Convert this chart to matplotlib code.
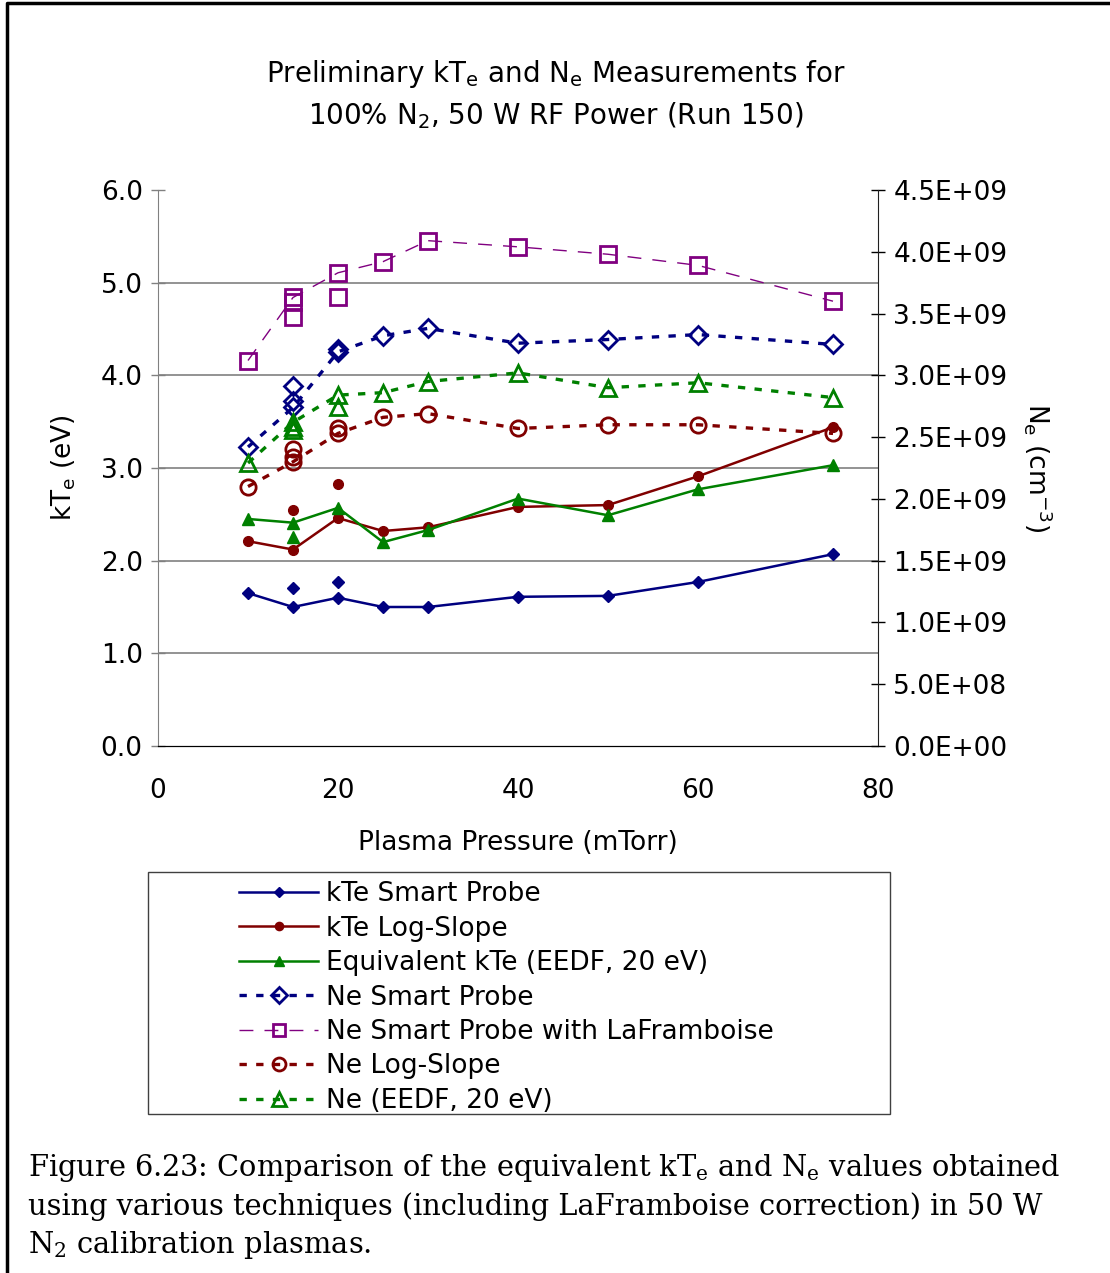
import matplotlib
matplotlib.use("Agg")
from matplotlib import pyplot as plt
from matplotlib.lines import Line2D
from matplotlib.patches import Rectangle
from matplotlib.ticker import FormatStrFormatter

plt.rcParams['font.family'] = ['DejaVu Sans']
plt.rcParams['mathtext.default'] = 'regular'

# pressure in mTorr
pressure = [10, 15, 20, 25, 30, 40, 50, 60, 75]

# kTe in eV
kte_smart = [1.65, 1.50, 1.60, 1.50, 1.50, 1.61, 1.62, 1.77, 2.07]
kte_log = [2.21, 2.12, 2.46, 2.32, 2.36, 2.58, 2.60, 2.91, 3.44]
kte_eedf = [2.45, 2.41, 2.57, 2.20, 2.33, 2.67, 2.49, 2.77, 3.03]

# repeat shots that are not on the connected line
kte_smart_rep_p = [15, 20]
kte_smart_rep = [1.70, 1.77]
kte_log_rep_p = [15, 20]
kte_log_rep = [2.55, 2.83]
kte_eedf_rep_p = [15]
kte_eedf_rep = [2.26]

# Ne in 1e9 cm^-3
ne_smart = [2.42, 2.74, 3.19, 3.32, 3.38, 3.26, 3.29, 3.33, 3.25]
ne_laf = [3.12, 3.63, 3.83, 3.92, 4.09, 4.04, 3.98, 3.89, 3.60]
ne_log = [2.10, 2.30, 2.53, 2.66, 2.69, 2.57, 2.60, 2.60, 2.53]
ne_eedf = [2.29, 2.62, 2.84, 2.86, 2.95, 3.02, 2.90, 2.94, 2.82]

ne_smart_rep_p = [15, 15, 20]
ne_smart_rep = [2.91, 2.79, 3.21]
ne_laf_rep_p = [15, 15, 20]
ne_laf_rep = [3.59, 3.47, 3.63]
ne_log_rep_p = [15, 15, 20]
ne_log_rep = [2.40, 2.34, 2.57]
ne_eedf_rep_p = [15, 15, 20]
ne_eedf_rep = [2.58, 2.56, 2.74]

navy = '#000080'
red = '#800000'
green = '#008000'
purple = '#800080'

fig = plt.figure(figsize=(11.1, 12.73), dpi=100)
ax = fig.add_axes([158/1110, 1-746/1273, 720/1110, 556/1273])
ax2 = ax.twinx()

handles = []
solid = [(kte_smart, kte_smart_rep_p, kte_smart_rep, navy, 'D', 6, 'kTe Smart Probe'),
         (kte_log, kte_log_rep_p, kte_log_rep, red, 'o', 7, 'kTe Log-Slope'),
         (kte_eedf, kte_eedf_rep_p, kte_eedf_rep, green, '^', 8, 'Equivalent kTe (EEDF, 20 eV)')]
for vals, rp, rv, c, m, ms, lab in solid:
    h, = ax.plot(pressure, vals, color=c, lw=1.8, marker=m, ms=ms, label=lab)
    ax.plot(rp, rv, ls='none', color=c, marker=m, ms=ms)
    handles.append(h)

dotted = [(ne_smart, ne_smart_rep_p, ne_smart_rep, navy, 'D', 9, (0, (2.2, 2.8)), 2.4, 'Ne Smart Probe'),
          (ne_laf, ne_laf_rep_p, ne_laf_rep, purple, 's', 11, (0, (10, 8)), 1.0, 'Ne Smart Probe with LaFramboise'),
          (ne_log, ne_log_rep_p, ne_log_rep, red, 'o', 11, (0, (2.2, 2.8)), 2.4, 'Ne Log-Slope'),
          (ne_eedf, ne_eedf_rep_p, ne_eedf_rep, green, '^', 12, (0, (2.2, 2.8)), 2.4, 'Ne (EEDF, 20 eV)')]
for vals, rp, rv, c, m, ms, ls, lw, lab in dotted:
    h, = ax2.plot(pressure, [v*1e9 for v in vals], color=c, lw=lw, ls=ls, marker=m, ms=ms,
                  mfc='none', mec=c, mew=2, label=lab)
    ax2.plot(rp, [v*1e9 for v in rv], ls='none', marker=m, ms=ms, mfc='none', mec=c, mew=2)
    handles.append(h)

ax.set_xlim(0, 80)
ax.set_ylim(0, 6)
ax2.set_ylim(0, 4.5e9)
ax.set_xticks([0, 20, 40, 60, 80])
ax.set_yticks([0, 1, 2, 3, 4, 5, 6])
ax2.set_yticks([i*0.5e9 for i in range(10)])
ax.yaxis.set_major_formatter(FormatStrFormatter('%.1f'))
ax2.yaxis.set_major_formatter(FormatStrFormatter('%.1E'))

for y in [1, 2, 3, 4, 5]:
    ax.axhline(y, color='#808080', lw=1.2, zorder=0)

for a in (ax, ax2):
    a.spines['top'].set_visible(False)
    a.tick_params(labelsize=19, direction='inout', length=10, width=1, pad=6)
ax.spines['left'].set_color('#808080')
ax2.spines['left'].set_visible(False)
ax.spines['right'].set_visible(False)
ax2.spines['right'].set_color('#202020')
ax.spines['bottom'].set_color('black')
ax.tick_params(axis='x', length=0, pad=23)
ax.tick_params(axis='y', colors='#808080', labelcolor='black')

ax.set_xlabel('Plasma Pressure (mTorr)', fontsize=19, labelpad=19)
ax.set_ylabel('kT$_{e}$ (eV)', fontsize=19, labelpad=16)
ax2.set_ylabel('N$_{e}$ (cm$^{-3}$)', fontsize=19, rotation=270, labelpad=34)

fig.text(556/1110, 1-74/1273, 'Preliminary kT$_{e}$ and N$_{e}$ Measurements for',
         fontsize=20, ha='center', va='center')
fig.text(556/1110, 1-116/1273, '100% N$_{2}$, 50 W RF Power (Run 150)',
         fontsize=20, ha='center', va='center')

# legend box drawn separately so the entries sit in its middle
fig.patches.append(Rectangle((148/1110, 1-1114/1273), 742/1110, 242/1273,
                             transform=fig.transFigure, fill=False, ec='#404040', lw=1))
fig.legend(handles=handles, loc='upper left', bbox_to_anchor=(226/1110, 1-868/1273),
           frameon=False, fontsize=19, handlelength=3.0, handletextpad=0.3,
           labelspacing=0.32, borderpad=0, numpoints=1, markerscale=0.85)

cap = ['Figure 6.23: Comparison of the equivalent kT$_{e}$ and N$_{e}$ values obtained',
       'using various techniques (including LaFramboise correction) in 50 W',
       'N$_{2}$ calibration plasmas.']
for i, line in enumerate(cap):
    fig.text(28/1110, 1-(1168+38.5*i)/1273, line, fontsize=20.8, ha='left', va='center',
             family=['DejaVu Serif'])

# outer frame along top and left edges
fig.lines.append(Line2D([7/1110, 7/1110, 1], [0, 1-3/1273, 1-3/1273],
                        transform=fig.transFigure, color='black', lw=2.5))

fig.savefig('out.png', dpi=100)
